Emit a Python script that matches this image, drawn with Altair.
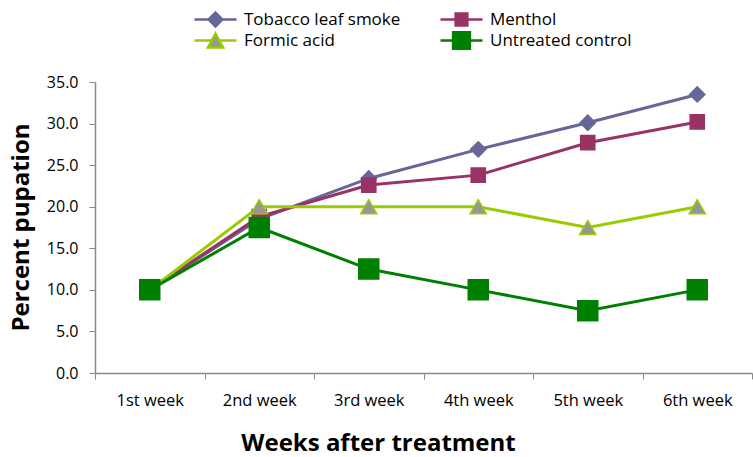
import altair as alt
import pandas as pd

weeks = ["1st week", "2nd week", "3rd week", "4th week", "5th week", "6th week"]
series = ["Tobacco leaf smoke", "Menthol", "Formic acid", "Untreated control"]
tobacco = [10.0, 18.5, 23.4, 26.9, 30.1, 33.5]
menthol = [10.0, 18.8, 22.6, 23.8, 27.7, 30.2]
formic = [10.0, 20.0, 20.0, 20.0, 17.5, 20.0]
control = [10.0, 17.5, 12.5, 10.0, 7.5, 10.0]

line_colors = ["#666699", "#993366", "#99CC00", "#008000"]
fill_colors = ["#666699", "#993366", "#969696", "#008000"]
shapes = ["diamond", "square", "triangle-up", "square"]
sizes = [230, 200, 260, 400]

legend_paths = [
    "M-1,0L1,0M0,-0.33L0.33,0L0,0.33L-0.33,0Z",
    "M-1,0L1,0M-0.28,-0.28L0.28,-0.28L0.28,0.28L-0.28,0.28Z",
    "M-1,0L-0.18,0M0.18,0L1,0M0,-0.33L0.36,0.33L-0.36,0.33Z",
    "M-1,0L1,0M-0.4,-0.4L0.4,-0.4L0.4,0.4L-0.4,0.4Z",
]

values = [tobacco, menthol, formic, control]
rows = []
for s, vals in zip(series, values):
    for w, v in zip(weeks, vals):
        rows.append({"series": s, "week": w, "value": v})
df = pd.DataFrame(rows)

FONT = "Open Sans"

x_enc = alt.X(
    "week:N",
    sort=weeks,
    scale=alt.Scale(type="band", domain=weeks, paddingInner=0, paddingOuter=0),
    axis=alt.Axis(
        title="Weeks after treatment",
        titleFont=FONT, titleFontSize=24, titleFontWeight="bold", titleColor="#000000",
        titleX=283, titleY=77, titleBaseline="alphabetic", titleAnchor="middle",
        labelFont=FONT, labelFontSize=16.5, labelColor="#000000", labelPadding=13,
        labelAngle=0,
        tickBand="extent", tickSize=6, tickColor="#898989",
        domainColor="#898989", domainWidth=1.5,
    ),
)
y_enc = alt.Y(
    "value:Q",
    scale=alt.Scale(domain=[0, 35], nice=False, zero=True),
    axis=alt.Axis(
        title="Percent pupation",
        titleFont=FONT, titleFontSize=24, titleFontWeight="bold", titleColor="#000000",
        titleX=-67, titleY=145, titleAngle=270, titleBaseline="alphabetic", titleAlign="center",
        values=[0, 5, 10, 15, 20, 25, 30, 35], format=".1f",
        labelFont=FONT, labelFontSize=16, labelColor="#000000", labelPadding=11,
        tickSize=6, tickColor="#898989", domainColor="#898989", domainWidth=1.5,
        grid=False,
    ),
)

base = alt.Chart(df)

layers = []
for s, lc in zip(series, line_colors):
    layers.append(
        base.transform_filter(alt.datum.series == s)
        .mark_line(strokeWidth=3, color=lc)
        .encode(x=x_enc, y=y_enc)
    )
for s, lc, fc, sh, sz in zip(series, line_colors, fill_colors, shapes, sizes):
    layers.append(
        base.transform_filter(alt.datum.series == s)
        .mark_point(shape=sh, filled=True, fill=fc, stroke=lc, strokeWidth=1.5, size=sz, opacity=1)
        .encode(x=x_enc, y=y_enc)
    )

legend_layer = base.mark_point(filled=True, size=0, opacity=0).encode(
    x=x_enc, y=y_enc,
    fill=alt.Fill(
        "series:N", scale=alt.Scale(domain=series, range=fill_colors),
        legend=alt.Legend(
            title=None, orient="none", legendX=98, legendY=-72, columns=2,
            direction="horizontal", clipHeight=19,
        ),
    ),
    stroke=alt.Stroke("series:N", scale=alt.Scale(domain=series, range=line_colors)),
    shape=alt.Shape("series:N", scale=alt.Scale(domain=series, range=legend_paths)),
)
layers.append(legend_layer)

chart = alt.layer(*layers).properties(
    width=657, height=291,
    autosize=alt.AutoSizeParams(type="none"),
    padding={"left": 95, "top": 82, "right": 1, "bottom": 84},
    background="#ffffff",
).configure_view(stroke=None).configure_legend(
    labelFont=FONT, labelFontSize=17, labelColor="#000000", labelOffset=6,
    symbolSize=1764, symbolStrokeWidth=2.5, rowPadding=2,
    columnPadding=38, padding=0, symbolOpacity=1,
)

chart.save("out.html", embed_options={"renderer": "svg", "actions": False})
